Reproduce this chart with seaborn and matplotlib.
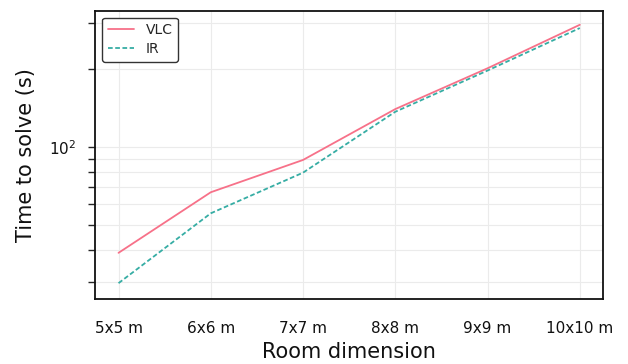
import matplotlib
matplotlib.use("Agg")
import matplotlib.pyplot as plt
import seaborn as sns
import pandas as pd
from matplotlib.ticker import LogLocator, NullFormatter

rooms = ["5x5 m", "6x6 m", "7x7 m", "8x8 m", "9x9 m", "10x10 m"]
vlc = [38.9, 66.7, 88.9, 139.8, 201.0, 296.0]
ir = [29.7, 55.3, 79.4, 136.5, 197.0, 287.5]

df = pd.DataFrame({
    "room": rooms * 2,
    "time": vlc + ir,
    "tech": ["VLC"] * len(rooms) + ["IR"] * len(rooms),
})
df["x"] = list(range(len(rooms))) * 2

sns.set_style("ticks")
palette = sns.color_palette("husl", 2)

fig = plt.figure(figsize=(6.28, 3.64), dpi=100)
ax = fig.add_axes([0.152, 0.1786, 0.808, 0.792])

sns.lineplot(data=df, x="x", y="time", hue="tech", style="tech",
             palette=palette, dashes={"VLC": "", "IR": (2.6, 1.4)},
             linewidth=1.3, ax=ax)

ax.set_yscale("log")
ax.set_ylim(25.8, 335.5)
ax.set_xlim(-0.25, 5.25)
ax.set_xticks(range(len(rooms)))
ax.set_xticklabels(rooms, fontsize=11, color="#111111")
ax.tick_params(axis="x", length=0, pad=16)
ax.yaxis.set_major_locator(LogLocator(base=10, numticks=10))
ax.yaxis.set_minor_locator(LogLocator(base=10, subs=range(2, 10), numticks=10))
ax.yaxis.set_minor_formatter(NullFormatter())
ax.tick_params(axis="y", which="major", length=5, width=1.0, labelsize=11,
               pad=9, labelcolor="#111111")
ax.tick_params(axis="y", which="minor", length=5, width=1.0)
ax.grid(True, which="both", color="#ebebeb", linewidth=0.8)
ax.set_axisbelow(True)
for s in ax.spines.values():
    s.set_visible(True)
    s.set_color("#111111")
    s.set_linewidth(1.3)

ax.set_xlabel("Room dimension", fontsize=15, labelpad=4, color="#111111")
ax.set_ylabel("Time to solve (s)", fontsize=15, labelpad=9, color="#111111")

leg = ax.legend(loc="upper left", fontsize=10, frameon=True, fancybox=True,
                edgecolor="#333333", framealpha=1, borderpad=0.4,
                handlelength=1.9, labelspacing=0.35)
leg.get_frame().set_linewidth(1.0)
leg.set_title(None)

fig.savefig("out.png", dpi=100)
